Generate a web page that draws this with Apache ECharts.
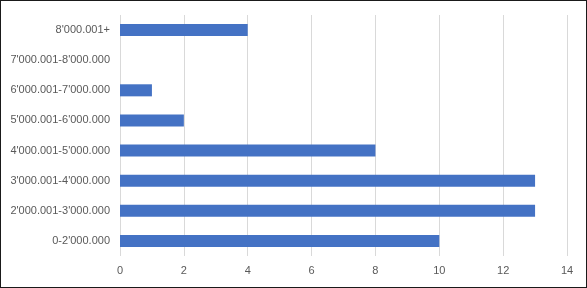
<!DOCTYPE html>
<html><head><meta charset="utf-8">
<script src="https://cdn.jsdelivr.net/npm/echarts@6/dist/echarts.min.js"></script>
<style>html,body{margin:0;padding:0;background:#fff}#c{width:587px;height:288px;box-sizing:border-box;border:1px solid #1a1a1a}</style>
</head><body><div id="c"></div>
<script>
const categories = ["0-2'000.000","2'000.001-3'000.000","3'000.001-4'000.000","4'000.001-5'000.000","5'000.001-6'000.000","6'000.001-7'000.000","7'000.001-8'000.000","8'000.001+"];
const values = [10, 13, 13, 8, 2, 1, 0, 4];
const chart = echarts.init(document.getElementById('c'));
chart.setOption({
  animation: false,
  grid: {left: 119, right: 19, top: 14, bottom: 31},
  xAxis: {type: 'value', min: 0, max: 14, interval: 2,
    axisLine: {show: false}, axisTick: {show: false},
    axisLabel: {color: '#595959', fontFamily: 'Liberation Sans', fontSize: 11, margin: 9},
    splitLine: {lineStyle: {color: '#d9d9d9'}}},
  yAxis: {type: 'category', data: categories,
    axisLine: {show: false}, axisTick: {show: false},
    axisLabel: {color: '#595959', fontFamily: 'Liberation Sans', fontSize: 11, margin: 10}},
  series: [{type: 'bar', data: values, barWidth: '40%', itemStyle: {color: '#4472c4'}}]
});
</script></body></html>
